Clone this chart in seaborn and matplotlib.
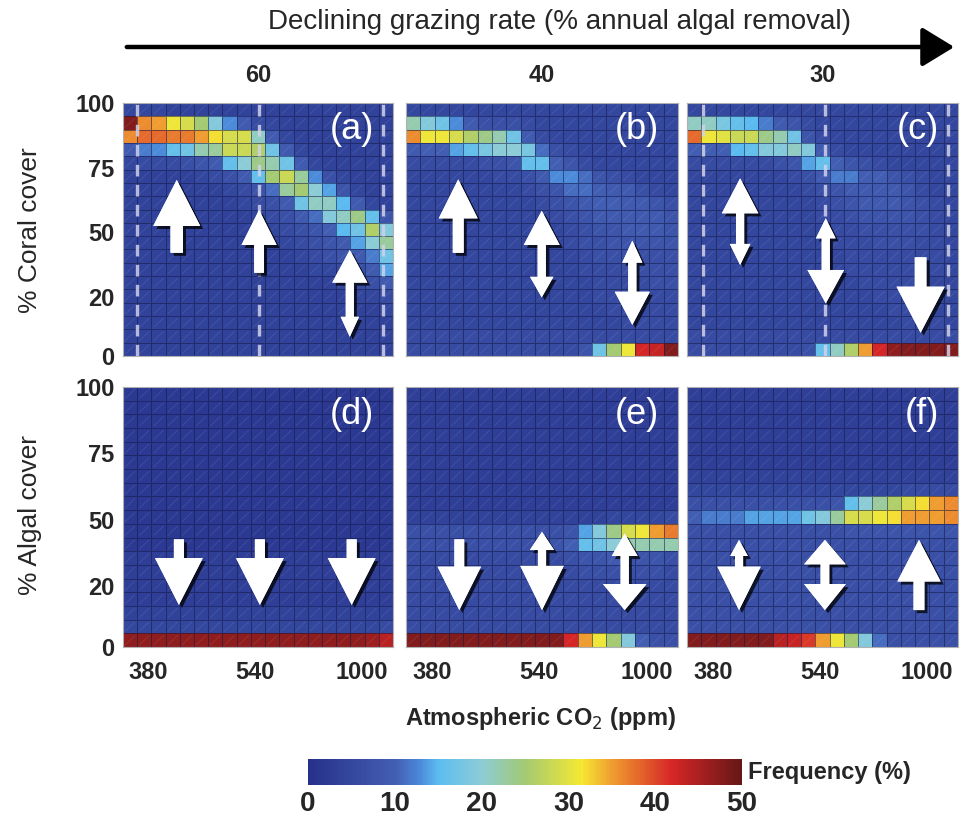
import numpy as np
import pandas as pd
import matplotlib
matplotlib.use("Agg")
import matplotlib.pyplot as plt
import seaborn as sns
from matplotlib.colors import LinearSegmentedColormap
from matplotlib.patches import Polygon, FancyArrowPatch
from matplotlib.collections import LineCollection
import matplotlib.patheffects as pe
from matplotlib import font_manager as fm

# ---------------- data ----------------
grazing_labels = ["60", "40", "30"]
panel_letters = ["(a)", "(b)", "(c)", "(d)", "(e)", "(f)"]
co2_tick_labels = ["380", "540", "1000"]
co2_tick_pos = [1.8, 9.3, 16.8]          # in cell units (19 columns)
cover_tick_labels = ["0", "20", "50", "75", "100"]
cover_tick_frac = [0.0, 0.235, 0.49, 0.745, 1.0]
cbar_ticks = [0, 10, 20, 30, 40, 50]
dashed_a = [1.0, 9.6, 18.3]
dashed_c = [1.1, 9.7, 18.3]

# rows: top (high cover) -> bottom (0 cover); 19 CO2 columns
coral_60 = [
    [5,5,5,4,4,4,4,4,4,4,4,4,4,4,4,4,4,4,4],
    [48,36,35,31,29,25,19,13,9,6,5,4,4,4,4,4,4,4,4],
    [36,38,38,37,37,35,32,29,29,21,9,5,4,4,4,4,4,4,4],
    [9,12,13,16,17,22,23,28,28,26,17,9,5,4,4,4,4,4,4],
    [5,6,6,6,7,8,9,16,20,24,22,17,9,5,4,4,4,4,4],
    [4,4,4,4,4,5,6,7,9,16,25,28,23,13,7,5,4,4,4],
    [4,4,4,4,4,4,4,5,6,8,11,23,25,20,14,8,5,4,4],
    [4,4,4,4,4,4,4,4,5,6,7,9,17,21,21,15,9,5,4],
    [4,4,4,4,4,4,4,4,4,5,6,7,9,11,19,21,24,16,8],
    [4,4,4,4,4,4,4,4,4,4,5,6,7,8,10,15,17,26,19],
    [4,4,4,4,4,4,4,4,4,4,4,5,6,7,8,9,14,20,23],
    [4,4,4,4,4,4,4,4,4,4,4,4,5,6,7,8,9,12,17],
    [4,4,4,4,4,4,4,4,4,4,4,4,4,5,5,6,7,9,14],
    [4,4,4,4,4,4,4,4,4,4,4,4,4,4,4,5,6,7,9],
    [4,4,4,4,4,4,4,4,4,4,4,4,4,4,4,4,5,5,6],
    [4,4,4,4,4,4,4,4,4,4,4,4,4,4,4,4,4,4,5],
    [4,4,4,4,4,4,4,4,4,4,4,4,4,4,4,4,4,4,4],
    [4,4,4,4,4,4,4,4,4,4,4,4,4,4,4,4,4,4,4],
    [4,4,4,4,4,4,4,4,4,4,4,4,4,4,4,4,4,4,4],
]
coral_40 = [
    [5,5,5,5,5,5,5,5,5,5,5,5,5,5,5,5,5,5,5],
    [22,19,17,13,9,7,7,7,6,5,5,5,5,5,5,5,5,5,5],
    [36,31,31,29,26,24,22,17,9,6,5,5,5,5,5,5,5,5,5],
    [9,10,10,14,16,18,20,20,18,11,7,6,5,5,5,5,5,5,5],
    [6,6,6,6,6,7,7,8,16,16,10,8,6,5,5,5,5,5,5],
    [5,5,5,5,5,5,6,6,7,9,13,13,11,8,7,6,5,5,5],
    [5,5,5,5,5,5,5,5,6,7,8,11,11,10,9,9,7,6,5],
    [5,5,5,5,5,5,5,5,5,6,7,8,9,10,10,9,9,8,7],
    [5,5,5,5,5,5,5,5,5,5,6,7,8,9,9,9,9,9,8],
    [5,5,5,5,5,5,5,5,5,5,5,6,7,8,8,9,9,9,8],
    [5,5,5,5,5,5,5,5,5,5,5,6,7,7,8,8,8,8,8],
    [5,5,5,5,5,5,5,5,5,5,5,5,6,7,7,7,7,7,7],
    [5,5,5,5,5,5,5,5,5,5,5,5,6,6,6,7,7,7,7],
    [5,5,5,5,5,5,5,5,5,5,5,5,5,6,6,6,6,7,7],
    [5,5,5,5,5,5,5,5,5,5,5,5,5,6,6,6,6,6,6],
    [5,5,5,5,5,5,5,5,5,5,5,5,5,5,6,6,6,6,6],
    [5,5,5,5,5,5,5,5,5,5,5,5,5,5,5,6,6,6,6],
    [6,6,6,6,6,6,6,6,6,6,6,6,6,6,6,6,6,6,6],
    [6,6,6,6,6,6,6,6,6,6,6,6,8,17,25,31,42,43,48],
]
coral_30 = [
    [5,5,5,5,5,5,5,5,5,5,5,5,5,5,5,5,5,5,5],
    [21,21,18,16,15,12,9,8,6,5,5,5,5,5,5,5,5,5,5],
    [38,31,30,28,28,24,22,17,8,6,5,5,5,5,5,5,5,5,5],
    [10,10,10,15,16,19,19,21,19,9,6,5,5,5,5,5,5,5,5],
    [6,6,6,6,6,6,7,8,14,16,10,8,7,6,5,5,5,5,5],
    [5,5,5,5,5,5,5,6,7,9,12,12,10,10,8,7,6,5,5],
    [5,5,5,5,5,5,5,5,6,7,8,9,9,9,9,8,6,5,5],
    [5,5,5,5,5,5,5,5,5,6,7,8,9,9,9,8,7,6,5],
    [5,5,5,5,5,5,5,5,5,6,6,7,8,8,8,8,7,6,5],
    [5,5,5,5,5,5,5,5,5,5,6,6,7,7,7,7,7,6,5],
    [5,5,5,5,5,5,5,5,5,5,6,6,6,7,7,7,6,6,5],
    [5,5,5,5,5,5,5,5,5,5,5,6,6,6,6,6,6,6,5],
    [5,5,5,5,5,5,5,5,5,5,5,6,6,6,6,6,6,6,5],
    [5,5,5,5,5,5,5,5,5,5,5,5,6,6,6,6,6,5,5],
    [5,5,5,5,5,5,5,5,5,5,5,5,5,6,6,6,6,5,5],
    [5,5,5,5,5,5,5,5,5,5,5,5,5,5,6,6,6,5,5],
    [5,5,5,5,5,5,5,5,5,5,5,5,5,5,5,6,6,6,5],
    [6,6,6,6,6,6,6,6,6,6,6,6,6,6,6,6,6,6,6],
    [6,6,6,6,6,6,6,6,7,16,21,26,35,42,47,48,48,48,48],
]
algae_60 = [
    [2,2,2,2,2,2,2,2,2,2,2,2,2,2,2,2,2,2,2],
    [2,2,2,2,2,2,2,2,2,2,2,2,2,2,2,2,2,2,2],
    [2,2,2,2,2,2,2,2,2,2,2,2,2,2,2,2,2,2,2],
    [2,2,2,2,2,2,2,2,2,2,2,2,2,2,2,2,2,2,2],
    [2,2,2,2,2,2,2,2,2,2,2,2,2,2,2,2,2,2,2],
    [2,2,2,2,2,2,2,2,2,2,2,2,2,2,2,2,2,2,2],
    [2,2,2,2,2,2,2,2,2,2,2,2,2,2,2,2,2,2,2],
    [2,2,2,2,2,2,2,2,2,2,2,2,2,2,2,2,2,2,2],
    [2,2,2,2,2,2,2,2,2,2,2,2,2,2,2,2,2,2,2],
    [2,2,2,2,2,2,2,2,2,2,2,2,2,2,2,2,2,2,2],
    [2,2,2,2,2,2,2,2,2,2,2,2,2,2,2,2,2,2,2],
    [2,2,2,2,2,2,2,2,2,2,2,2,2,2,2,2,2,2,2],
    [3,3,3,3,3,3,3,3,3,3,3,3,3,3,3,3,3,3,3],
    [3,3,3,3,3,3,3,3,3,3,3,3,3,3,3,3,3,3,3],
    [3,3,3,3,3,3,3,3,3,3,3,3,3,3,3,3,3,3,3],
    [3,3,3,3,3,3,3,3,3,3,3,3,3,3,3,3,3,3,3],
    [4,4,4,4,4,4,4,4,4,4,4,4,4,4,4,4,4,4,4],
    [5,5,5,5,5,5,5,5,5,5,5,5,5,5,5,5,5,5,6],
    [47,47,47,47,47,47,47,47,47,47,47,47,47,47,47,47,47,46,44],
]
algae_40 = [
    [3,3,3,3,3,3,3,3,3,3,3,3,3,3,3,3,3,3,3],
    [3,3,3,3,3,3,3,3,3,3,3,3,3,3,3,3,3,3,3],
    [3,3,3,3,3,3,3,3,3,3,3,3,3,3,3,3,3,3,3],
    [3,3,3,3,3,3,3,3,3,3,3,3,3,3,3,3,3,3,3],
    [3,3,3,3,3,3,3,3,3,3,3,3,3,3,3,3,3,3,3],
    [3,3,3,3,3,3,3,3,3,3,3,3,3,3,3,3,3,3,3],
    [3,3,3,3,3,3,3,3,3,3,3,3,3,3,3,3,3,3,3],
    [3,3,3,3,3,3,3,3,3,3,3,3,3,3,3,3,3,3,3],
    [3,3,3,3,3,3,3,3,3,3,3,3,3,3,3,3,3,3,3],
    [4,4,4,4,4,4,4,4,4,4,4,4,4,4,5,5,5,5,6],
    [7,7,7,7,7,7,7,7,7,7,7,8,14,19,24,29,31,35,37],
    [7,7,7,7,7,7,7,7,7,7,8,10,16,17,20,22,22,22,22],
    [6,6,6,6,6,6,6,6,6,6,6,7,8,8,9,8,8,8,7],
    [6,6,6,6,6,6,6,6,6,6,6,6,7,7,7,7,7,7,6],
    [6,6,6,6,6,6,6,6,6,6,6,6,6,6,6,6,6,6,6],
    [6,6,6,6,6,6,6,6,6,6,6,6,6,6,6,6,6,6,6],
    [6,6,6,6,6,6,6,6,6,6,6,6,6,6,6,6,6,6,6],
    [6,6,6,6,6,6,6,6,6,6,6,6,6,6,6,6,6,6,6],
    [48,48,48,48,48,48,48,48,48,48,48,42,35,31,25,19,10,7,7],
]
algae_30 = [
    [3,3,3,3,3,3,3,3,3,3,3,3,3,3,3,3,3,3,3],
    [3,3,3,3,3,3,3,3,3,3,3,3,3,3,3,3,3,3,3],
    [3,3,3,3,3,3,3,3,3,3,3,3,3,3,3,3,3,3,3],
    [3,3,3,3,3,3,3,3,3,3,3,3,3,3,3,3,3,3,3],
    [3,3,3,3,3,3,3,3,3,3,3,3,3,3,3,3,3,3,3],
    [3,3,3,3,3,3,3,3,3,3,3,3,3,3,3,3,3,3,3],
    [4,4,4,4,4,4,4,4,4,4,4,4,4,4,4,4,4,4,4],
    [5,5,5,5,5,5,5,5,5,5,5,5,5,5,5,6,6,6,6],
    [7,7,7,7,7,7,7,7,7,7,8,16,20,23,26,29,32,35,36],
    [10,12,12,12,14,14,14,14,17,19,23,29,29,31,32,35,35,35,36],
    [7,7,7,7,7,7,7,7,7,7,7,8,8,8,8,8,8,8,8],
    [7,7,7,7,7,7,7,7,7,7,7,7,7,7,7,7,7,7,7],
    [7,7,7,7,7,7,7,7,7,7,7,7,7,7,7,7,7,7,7],
    [7,7,7,7,7,7,7,7,7,7,7,7,7,7,7,7,7,7,7],
    [7,7,7,7,7,7,7,7,7,7,7,7,7,7,7,7,7,7,7],
    [7,7,7,7,7,7,7,7,7,7,7,7,7,7,7,7,7,7,7],
    [7,7,7,7,7,7,7,7,7,7,7,7,7,7,7,7,7,7,7],
    [7,7,7,7,7,7,7,7,7,7,7,7,7,7,7,7,7,7,7],
    [48,48,48,48,48,48,44,43,41,35,31,25,19,11,7,7,7,7,7],
]

# arrows per panel: (x, top_tip, top_base, top_w, bot_base, bot_tip, bot_w, shaft_w)
# None for a missing head (flat end at the *_base value)
arrows = {
    0: [(0.199, 0.696, 0.514, 0.174, 0.408, None, None, 0.046),
        (0.504, 0.577, 0.439, 0.130, 0.329, None, None, 0.036),
        (0.840, 0.419, 0.290, 0.130, 0.155, 0.076, 0.068, 0.030)],
    1: [(0.192, 0.698, 0.544, 0.143, 0.408, None, None, 0.040),
        (0.499, 0.574, 0.439, 0.132, 0.313, 0.232, 0.086, 0.030),
        (0.832, 0.456, 0.369, 0.074, 0.254, 0.123, 0.129, 0.030)],
    2: [(0.196, 0.702, 0.564, 0.135, 0.443, 0.360, 0.076, 0.030),
        (0.512, 0.544, 0.465, 0.073, 0.340, 0.208, 0.135, 0.030),
        (0.862, None, 0.390, None, 0.274, 0.092, 0.178, 0.043)],
    3: [(0.207, None, 0.414, None, 0.342, 0.162, 0.177, 0.037),
        (0.507, None, 0.414, None, 0.342, 0.162, 0.177, 0.037),
        (0.847, None, 0.414, None, 0.342, 0.162, 0.177, 0.037)],
    4: [(0.196, None, 0.414, None, 0.309, 0.142, 0.160, 0.036),
        (0.500, 0.443, 0.373, 0.089, 0.312, 0.142, 0.160, 0.030),
        (0.804, 0.436, 0.350, 0.095, 0.242, 0.142, 0.160, 0.030)],
    5: [(0.192, 0.412, 0.350, 0.065, 0.309, 0.142, 0.160, 0.030),
        (0.509, 0.412, 0.318, 0.154, 0.242, 0.142, 0.154, 0.032),
        (0.856, 0.412, 0.252, 0.160, 0.142, None, None, 0.040)],
}

# ---------------- style ----------------
sns.set_theme(style="white")
names = {f.name for f in fm.fontManager.ttflist}
if "Liberation Sans Narrow" in names:
    FAM = ["Liberation Sans Narrow", "DejaVu Sans"]
else:
    FAM = ["Liberation Sans", "DejaVu Sans"]
plt.rcParams["font.family"] = FAM

cmap = LinearSegmentedColormap.from_list("freq", [
    (0.00, (0.15, 0.19, 0.54)),
    (0.20, (0.26, 0.37, 0.70)),
    (0.26, (0.30, 0.55, 0.86)),
    (0.30, (0.36, 0.74, 0.94)),
    (0.40, (0.55, 0.80, 0.84)),
    (0.50, (0.64, 0.79, 0.45)),
    (0.63, (0.96, 0.91, 0.20)),
    (0.70, (0.94, 0.62, 0.19)),
    (0.84, (0.84, 0.15, 0.15)),
    (1.00, (0.40, 0.09, 0.09)),
])

W, H = 960, 822
fig = plt.figure(figsize=(W / 100, H / 100), dpi=100)

col_x = [(123, 393), (406, 678), (687, 958)]
row_y = [(103, 356), (387, 647)]

panels = [coral_60, coral_40, coral_30, algae_60, algae_40, algae_30]
mesh = None


def arrow_poly(x, tt, tb, tw, bb, bt, bw, sw):
    pts = []
    if tt is None:
        pts += [(x - sw / 2, tb), (x + sw / 2, tb)]
    else:
        pts += [(x - tw / 2, tb), (x, tt), (x + tw / 2, tb), (x + sw / 2, tb)]
    if bt is None:
        pts += [(x + sw / 2, bb), (x - sw / 2, bb)]
    else:
        pts += [(x + sw / 2, bb), (x + bw / 2, bb), (x, bt), (x - bw / 2, bb), (x - sw / 2, bb)]
    if tt is not None:
        pts += [(x - sw / 2, tb)]
    return pts


for i, data in enumerate(panels):
    r, c = divmod(i, 3)
    x0, x1 = col_x[c]
    y0, y1 = row_y[r]
    ax = fig.add_axes([x0 / W, 1 - y1 / H, (x1 - x0) / W, (y1 - y0) / H])
    df = pd.DataFrame(np.array(data, dtype=float))
    sns.heatmap(df, ax=ax, cmap=cmap, vmin=0, vmax=50, cbar=False,
                linewidths=0.6, linecolor=(0.08, 0.10, 0.28, 0.55),
                xticklabels=False, yticklabels=False)
    if mesh is None:
        mesh = ax.collections[0]
    nrow, ncol = df.shape
    # faint diagonal texture inside every cell
    segs = [[(j + 0.15, k + 0.85), (j + 0.85, k + 0.15)] for k in range(nrow) for j in range(ncol)]
    ax.add_collection(LineCollection(segs, colors=[(1, 1, 1, 0.10)], linewidths=0.6, zorder=3))
    for s in ax.spines.values():
        s.set_visible(True)
        s.set_color("#b0b0b0")
        s.set_linewidth(0.8)
    ax.tick_params(length=0, pad=6)
    if c == 0:
        ax.set_yticks([nrow * (1 - f) for f in cover_tick_frac])
        ax.set_yticklabels(cover_tick_labels, fontsize=17, fontweight="bold", rotation=0)
    else:
        ax.set_yticks([])
    if r == 1:
        ax.set_xticks(co2_tick_pos)
        ax.set_xticklabels(co2_tick_labels, fontsize=17, fontweight="bold", rotation=0)
        ax.tick_params(axis="x", pad=10)
    else:
        ax.set_xticks([])
    ax.set_xlabel("")
    ax.set_ylabel("")
    if i == 0:
        for xd in dashed_a:
            ax.axvline(xd, color=(0.82, 0.82, 0.92), lw=2.4, ls=(0, (3.5, 2.5)), alpha=0.85, zorder=4)
    if i == 2:
        for xd in dashed_c:
            ax.axvline(xd, color=(0.82, 0.82, 0.92), lw=2.4, ls=(0, (3.5, 2.5)), alpha=0.85, zorder=4)
    ax.text(0.93, 0.895, panel_letters[i], transform=ax.transAxes, ha="right", va="center",
            color="white", fontsize=26, zorder=6)
    for a in arrows[i]:
        poly = Polygon(arrow_poly(*a), closed=True, transform=ax.transAxes,
                       facecolor="white", edgecolor="none", zorder=5)
        poly.set_path_effects([pe.withSimplePatchShadow(offset=(2.2, -2.2), shadow_rgbFace="black", alpha=0.75),
                               pe.Normal()])
        ax.add_patch(poly)

# column headers (grazing rates)
for c, lab in enumerate(grazing_labels):
    xc = (col_x[c][0] + col_x[c][1]) / 2 / W
    fig.text(xc, 1 - 75 / H, lab, ha="center", va="center", fontsize=17, fontweight="bold")

# top arrow + title
fig.text(560 / W, 1 - 22 / H, "Declining grazing rate (% annual algal removal)",
         ha="center", va="center", fontsize=20)
fig.add_artist(FancyArrowPatch(
    (124 / W, 1 - 47 / H), (957 / W, 1 - 47 / H), transform=fig.transFigure,
    arrowstyle="-|>,head_length=0.9,head_width=0.55", mutation_scale=22, lw=3.2, color="black"))

# y labels
fig.text(30 / W, 1 - 230 / H, "% Coral cover", rotation=90, ha="center", va="center", fontsize=19)
fig.text(30 / W, 1 - 515 / H, "% Algal cover", rotation=90, ha="center", va="center", fontsize=19)

# x label
fig.text(540 / W, 1 - 718 / H, "Atmospheric CO$_2$ (ppm)", ha="center", va="center",
         fontsize=17, fontweight="bold")

# colorbar
cax = fig.add_axes([308 / W, 1 - 785 / H, (742 - 308) / W, 26 / H])
cb = fig.colorbar(mesh, cax=cax, orientation="horizontal", ticks=cbar_ticks)
cb.outline.set_visible(False)
cax.tick_params(length=0, pad=4)
cax.set_xticklabels([str(t) for t in cbar_ticks], fontsize=20, fontweight="bold")
fig.text(748 / W, 1 - 772 / H, "Frequency (%)", ha="left", va="center", fontsize=17, fontweight="bold")

fig.savefig("out.png", dpi=100)
